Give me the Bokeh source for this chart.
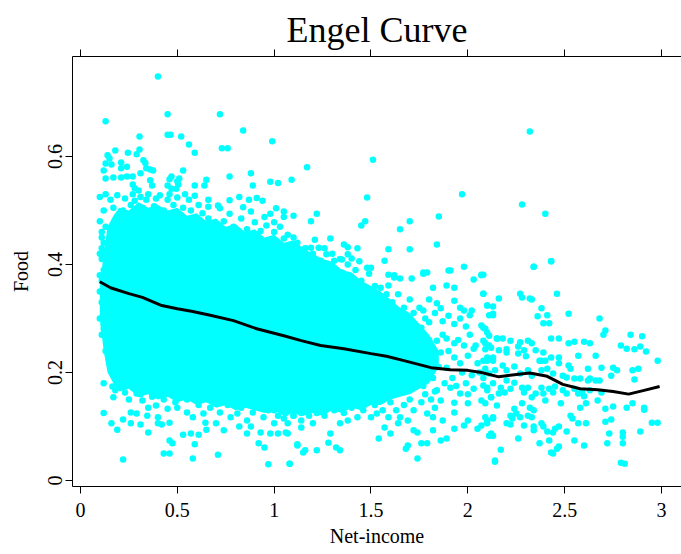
from bokeh.plotting import figure
from bokeh.models import Range1d, LinearAxis, FixedTicker
from bokeh.embed import file_html
from bokeh.resources import INLINE

# ---------------- data ----------------
x_ticks = [0, 0.5, 1, 1.5, 2, 2.5, 3]
x_tick_labels = ["0", "0.5", "1", "1.5", "2", "2.5", "3"]
y_ticks = [0, 0.2, 0.4, 0.6]
y_tick_labels = ["0", "0.2", "0.4", "0.6"]

# dense, saturated core of the cloud (lower / upper envelope per income)
core_x = [0.10, 0.12, 0.14, 0.17, 0.20, 0.25, 0.30, 0.35, 0.40, 0.45, 0.50, 0.55, 0.60,
          0.65, 0.70, 0.75, 0.80, 0.85, 0.90, 0.95, 1.00, 1.05, 1.10, 1.15, 1.20, 1.25,
          1.30, 1.35, 1.40, 1.45, 1.50, 1.55, 1.60, 1.65, 1.70, 1.75, 1.80, 1.85]
core_hi = [0.36, 0.42, 0.47, 0.49, 0.505, 0.50, 0.515, 0.505, 0.51, 0.50, 0.505, 0.49, 0.495,
           0.48, 0.485, 0.47, 0.475, 0.46, 0.465, 0.45, 0.455, 0.44, 0.445, 0.43, 0.42, 0.41,
           0.405, 0.39, 0.385, 0.37, 0.36, 0.35, 0.335, 0.32, 0.31, 0.29, 0.27, 0.24]
core_lo = [0.30, 0.24, 0.20, 0.18, 0.165, 0.17, 0.155, 0.16, 0.15, 0.155, 0.145, 0.15, 0.14,
           0.145, 0.135, 0.14, 0.13, 0.135, 0.13, 0.125, 0.13, 0.12, 0.125, 0.12, 0.125, 0.12,
           0.13, 0.125, 0.135, 0.13, 0.14, 0.14, 0.15, 0.155, 0.16, 0.17, 0.18, 0.21]

# individual households outside the solid core
upper_pts = [
    (0.40, 0.748), (0.13, 0.665), (0.45, 0.678), (0.72, 0.678), (0.84, 0.648), (0.45, 0.640),
    (0.465, 0.640), (0.305, 0.637), (0.52, 0.637), (0.99, 0.628), (0.56, 0.622), (0.59, 0.607),
    (0.73, 0.615), (0.76, 0.615), (0.18, 0.611), (0.14, 0.602), (0.15, 0.596), (0.245, 0.607),
    (0.305, 0.613), (0.29, 0.604), (0.325, 0.593), (0.335, 0.588), (0.21, 0.589), (0.13, 0.587),
    (0.16, 0.585), (0.12, 0.574), (0.21, 0.578), (0.24, 0.581), (0.34, 0.578), (0.36, 0.576),
    (0.375, 0.574), (0.53, 0.574), (0.47, 0.563), (0.46, 0.558), (0.51, 0.559), (0.50, 0.554),
    (0.13, 0.559), (0.17, 0.561), (0.21, 0.561), (0.24, 0.563), (0.27, 0.563), (0.31, 0.569),
    (0.36, 0.556), (0.65, 0.557), (0.77, 0.563), (0.88, 0.569), (0.98, 0.553), (1.02, 0.551),
    (1.09, 0.557), (0.89, 0.546), (0.64, 0.546), (0.59, 0.546), (0.27, 0.548), (0.28, 0.541),
    (0.45, 0.546), (0.47, 0.540), (0.505, 0.548), (0.495, 0.540), (0.37, 0.546), (0.30, 0.537),
    (1.51, 0.594), (1.17, 0.580), (1.97, 0.530), (2.32, 0.646), (2.28, 0.511), (2.40, 0.494),
    (1.48, 0.524), (1.85, 0.489), (1.70, 0.480), (1.47, 0.480), (1.45, 0.472), (1.65, 0.465),
    (1.84, 0.437), (1.05, 0.498), (1.10, 0.490), (1.22, 0.494), (1.19, 0.480),
]
mid_upper_pts = [
    (0.10, 0.525), (0.13, 0.53), (0.155, 0.52), (0.19, 0.528), (0.23, 0.522), (0.27, 0.53),
    (0.28, 0.518), (0.31, 0.525), (0.34, 0.52), (0.35, 0.53), (0.39, 0.522), (0.41, 0.528),
    (0.45, 0.52), (0.46, 0.53), (0.50, 0.524), (0.54, 0.53), (0.56, 0.52), (0.59, 0.527),
    (0.66, 0.52), (0.77, 0.519), (0.82, 0.525), (0.87, 0.52), (0.91, 0.523), (0.94, 0.518),
    (0.66, 0.507), (0.71, 0.509), (0.72, 0.504), (0.77, 0.494), (0.84, 0.506), (0.88, 0.498),
    (0.98, 0.494), (1.01, 0.504), (1.05, 0.488), (1.00, 0.478), (0.12, 0.50), (0.17, 0.505),
    (0.22, 0.50), (0.26, 0.51), (0.32, 0.505), (0.38, 0.508), (0.43, 0.50), (0.48, 0.51),
    (0.53, 0.505), (0.57, 0.50), (0.61, 0.51), (0.63, 0.495),
    (0.66, 0.485), (0.70, 0.475), (0.74, 0.48), (0.79, 0.47), (0.83, 0.485), (0.86, 0.465),
    (0.90, 0.478), (0.93, 0.462), (0.96, 0.472), (1.00, 0.46), (1.03, 0.47), (1.07, 0.455),
    (1.10, 0.45), (1.12, 0.44), (0.95, 0.488), (0.81, 0.455), (0.68, 0.462),
    (1.29, 0.448), (1.21, 0.446), (1.05, 0.448), (1.36, 0.437), (1.38, 0.432), (1.43, 0.43),
    (1.59, 0.428), (1.70, 0.428), (1.08, 0.431), (1.12, 0.428), (1.19, 0.431), (1.23, 0.431),
    (1.57, 0.407), (1.98, 0.396), (1.91, 0.389), (2.07, 0.381), (1.77, 0.385), (1.79, 0.385),
    (1.62, 0.38), (1.59, 0.381), (1.48, 0.394), (1.50, 0.394), (1.49, 0.383),
    (1.44, 0.406), (1.40, 0.411), (1.38, 0.419), (1.35, 0.409), (1.31, 0.407), (1.27, 0.419),
    (1.24, 0.407), (1.19, 0.402), (1.14, 0.404), (1.11, 0.394), (1.16, 0.389),
    (2.43, 0.406), (2.34, 0.396), (2.08, 0.381),
    (1.52, 0.36), (1.55, 0.34), (1.58, 0.345), (1.61, 0.33), (1.64, 0.345), (1.67, 0.32),
    (1.70, 0.335), (1.72, 0.31), (1.75, 0.32), (1.78, 0.30), (1.80, 0.335), (1.83, 0.31),
    (1.87, 0.295), (1.90, 0.305), (1.93, 0.29), (1.96, 0.30), (1.99, 0.285), (1.45, 0.37),
    (1.42, 0.39), (1.38, 0.40), (1.34, 0.41), (1.30, 0.42), (1.26, 0.43), (1.20, 0.42),
    (1.16, 0.43), (1.25, 0.40), (1.35, 0.385), (1.47, 0.35),
]
left_pts = [
    (0.11, 0.45), (0.12, 0.42), (0.11, 0.41), (0.12, 0.39), (0.11, 0.37), (0.10, 0.35),
    (0.12, 0.34), (0.11, 0.33), (0.12, 0.29), (0.11, 0.27), (0.13, 0.24), (0.12, 0.18),
    (0.12, 0.125), (0.10, 0.30), (0.10, 0.38), (0.13, 0.36), (0.13, 0.31),
    (0.10, 0.48), (0.11, 0.46), (0.12, 0.44), (0.10, 0.42), (0.13, 0.47), (0.11, 0.43),
]
lower_pts = [
    (0.22, 0.039), (0.43, 0.05), (0.46, 0.05), (0.58, 0.041), (0.71, 0.048), (0.97, 0.03),
    (1.08, 0.031), (0.92, 0.069), (0.95, 0.061), (1.12, 0.067),
    (0.16, 0.106), (0.19, 0.094), (0.22, 0.113), (0.26, 0.106), (0.31, 0.104), (0.35, 0.089),
    (0.40, 0.106), (0.42, 0.104), (0.46, 0.107), (0.46, 0.074), (0.475, 0.069), (0.53, 0.085),
    (0.57, 0.087), (0.59, 0.067), (0.61, 0.085), (0.65, 0.094), (0.74, 0.093), (0.70, 0.106),
    (0.645, 0.107), (0.82, 0.10), (0.88, 0.10), (0.86, 0.087), (0.93, 0.089), (0.98, 0.087),
    (1.02, 0.087), (1.06, 0.089), (1.07, 0.106), (1.00, 0.106),
    (0.17, 0.154), (0.165, 0.174), (0.18, 0.167), (0.12, 0.272), (0.12, 0.281), (0.13, 0.287),
    (0.155, 0.263), (0.18, 0.241), (0.19, 0.222), (0.21, 0.204), (0.23, 0.163), (0.27, 0.172),
    (0.29, 0.161), (0.32, 0.148), (0.35, 0.135), (0.39, 0.139), (0.26, 0.126), (0.29, 0.124),
    (0.345, 0.12), (0.40, 0.117), (0.45, 0.133), (0.50, 0.135), (0.55, 0.126), (0.58, 0.117),
    (0.635, 0.124), (0.67, 0.135), (0.72, 0.126), (0.775, 0.117), (0.81, 0.124), (0.86, 0.111),
    (0.89, 0.126), (0.945, 0.117), (1.00, 0.13), (1.05, 0.115), (1.10, 0.12), (1.14, 0.111),
    (0.25, 0.15), (0.31, 0.16), (0.37, 0.155), (0.43, 0.15), (0.49, 0.145), (0.55, 0.15),
    (0.61, 0.14), (0.66, 0.15), (0.76, 0.14), (0.83, 0.135), (0.92, 0.14), (0.97, 0.13),
    (0.40, 0.165), (0.52, 0.16), (0.70, 0.145),
    (1.52, 0.14), (1.56, 0.13), (1.60, 0.145), (1.63, 0.13), (1.67, 0.14), (1.70, 0.15),
    (1.72, 0.13), (1.76, 0.145), (1.78, 0.16), (1.81, 0.15), (1.83, 0.135), (1.46, 0.13),
    (1.40, 0.135), (1.36, 0.125), (1.31, 0.13), (1.26, 0.12), (1.22, 0.125), (1.18, 0.12),
    (1.14, 0.125), (1.10, 0.12), (1.06, 0.125), (1.02, 0.12),
    (1.43, 0.117), (1.38, 0.111), (1.34, 0.106), (1.29, 0.087), (1.28, 0.07), (1.34, 0.056),
    (1.32, 0.061), (1.22, 0.056), (1.16, 0.056), (1.15, 0.052), (1.12, 0.065), (1.08, 0.031),
    (1.20, 0.106), (1.14, 0.098), (1.07, 0.087),
    (1.72, 0.093), (1.74, 0.089), (1.64, 0.106), (1.65, 0.117), (1.69, 0.111), (1.60, 0.087),
    (1.57, 0.098), (1.54, 0.078), (1.50, 0.117), (1.53, 0.124), (1.59, 0.117),
    (1.68, 0.059), (1.69, 0.065), (1.76, 0.069), (1.79, 0.069), (1.74, 0.041),
]
right_pts = [
    (1.90, 0.389), (2.03, 0.372), (2.07, 0.38), (1.89, 0.361), (1.93, 0.357), (1.82, 0.357),
    (2.08, 0.346), (1.77, 0.383), (1.71, 0.374), (1.65, 0.374), (1.62, 0.376), (1.55, 0.357),
    (1.59, 0.361), (1.84, 0.328), (1.86, 0.319), (1.93, 0.333), (1.96, 0.32), (1.98, 0.315),
    (2.02, 0.315), (2.01, 0.306), (2.10, 0.324), (2.13, 0.306), (2.07, 0.287), (2.09, 0.281),
    (2.15, 0.263), (2.09, 0.254), (1.77, 0.315), (1.80, 0.293), (1.73, 0.287), (1.76, 0.283),
    (1.69, 0.30), (1.69, 0.293), (1.65, 0.306),
    (1.84, 0.259), (1.89, 0.263), (1.93, 0.254), (1.98, 0.25), (2.03, 0.244), (2.00, 0.231),
    (1.93, 0.228), (1.86, 0.237), (1.79, 0.235), (1.82, 0.222), (1.89, 0.209), (1.96, 0.217),
    (2.05, 0.217), (2.10, 0.228), (2.13, 0.222),
    (1.84, 0.167), (1.91, 0.172), (1.96, 0.161), (2.03, 0.17), (2.10, 0.172), (2.07, 0.148),
    (2.12, 0.154), (2.00, 0.143), (1.93, 0.144), (1.86, 0.148), (2.13, 0.117), (2.10, 0.111),
    (2.07, 0.102), (2.00, 0.111), (1.98, 0.102), (1.93, 0.126), (1.87, 0.111), (1.82, 0.117),
    (1.79, 0.124), (2.05, 0.096), (2.12, 0.087), (2.13, 0.083), (1.93, 0.096), (1.89, 0.078),
    (1.86, 0.074), (1.82, 0.093), (2.14, 0.037),
    (1.76, 0.25), (1.78, 0.20), (1.80, 0.26), (1.82, 0.19), (1.85, 0.21), (1.87, 0.27),
    (1.88, 0.18), (1.90, 0.24), (1.92, 0.19), (1.95, 0.26), (1.97, 0.20), (1.99, 0.18),
    (2.01, 0.27), (2.02, 0.195), (2.04, 0.25), (2.06, 0.20), (2.08, 0.19), (2.11, 0.25),
    (1.77, 0.175), (1.83, 0.165), (1.94, 0.175), (2.00, 0.16), (1.72, 0.24), (1.74, 0.20),
    (1.70, 0.22),
]
far_right_pts = [
    (2.08, 0.346), (2.16, 0.337), (2.27, 0.346), (2.28, 0.339), (2.32, 0.337), (2.33, 0.335),
    (2.46, 0.346), (2.10, 0.324), (2.13, 0.322), (2.13, 0.309), (2.11, 0.306), (2.38, 0.319),
    (2.36, 0.304), (2.41, 0.306), (2.39, 0.291), (2.42, 0.291), (2.52, 0.309), (2.68, 0.30),
    (2.71, 0.278), (2.70, 0.270), (2.84, 0.270), (2.90, 0.267), (2.08, 0.283), (2.10, 0.274),
    (2.11, 0.268), (2.15, 0.263), (2.18, 0.263), (2.22, 0.259), (2.27, 0.256), (2.31, 0.259),
    (2.33, 0.254), (2.43, 0.263), (2.47, 0.263), (2.52, 0.254), (2.55, 0.257), (2.60, 0.257),
    (2.63, 0.254), (2.79, 0.25), (2.82, 0.244), (2.86, 0.243), (2.92, 0.239), (2.89, 0.248),
    (2.98, 0.222), (2.08, 0.259), (2.09, 0.243), (2.12, 0.246), (2.08, 0.222), (2.10, 0.222),
    (2.13, 0.228), (2.16, 0.241), (2.20, 0.243), (2.20, 0.237), (2.26, 0.248), (2.29, 0.241),
    (2.26, 0.235), (2.30, 0.23), (2.35, 0.241), (2.39, 0.237), (2.37, 0.222), (2.38, 0.222),
    (2.40, 0.222), (2.43, 0.228), (2.47, 0.228), (2.47, 0.217), (2.52, 0.213), (2.53, 0.207),
    (2.57, 0.231), (2.62, 0.207), (2.66, 0.231), (2.69, 0.209), (2.75, 0.209), (2.77, 0.204),
    (2.74, 0.194), (2.85, 0.204), (2.88, 0.207), (2.86, 0.187), (2.66, 0.185), (2.63, 0.189),
    (2.82, 0.135), (2.85, 0.143), (2.91, 0.135), (2.91, 0.131), (2.95, 0.107), (2.98, 0.107),
    (2.89, 0.091), (2.80, 0.089), (2.80, 0.081), (2.80, 0.069), (2.79, 0.033), (2.81, 0.031),
    (2.75, 0.137), (2.73, 0.087), (2.72, 0.069), (2.71, 0.109), (2.74, 0.113), (2.61, 0.143),
    (2.61, 0.106), (2.60, 0.065), (2.58, 0.135), (2.57, 0.106), (2.55, 0.074), (2.53, 0.12),
    (2.54, 0.115), (2.51, 0.091), (2.48, 0.143), (2.47, 0.10), (2.47, 0.063), (2.46, 0.059),
    (2.43, 0.052), (2.44, 0.05), (2.42, 0.074), (2.41, 0.091), (2.39, 0.10), (2.38, 0.106),
    (2.44, 0.089), (2.45, 0.096), (2.37, 0.069), (2.34, 0.093), (2.34, 0.10), (2.32, 0.135),
    (2.34, 0.13), (2.31, 0.12), (2.33, 0.117), (2.28, 0.143), (2.27, 0.117), (2.26, 0.078),
    (2.29, 0.102), (2.24, 0.133), (2.22, 0.12), (2.25, 0.124), (2.20, 0.106), (2.22, 0.104),
    (2.23, 0.115), (2.17, 0.057), (2.14, 0.035), (2.12, 0.085), (2.11, 0.083), (2.13, 0.115),
    (2.10, 0.106), (2.09, 0.117), (2.09, 0.143), (2.12, 0.154), (2.15, 0.139), (2.17, 0.172),
    (2.19, 0.163), (2.16, 0.161), (2.20, 0.185), (2.24, 0.181), (2.22, 0.17), (2.28, 0.172),
    (2.29, 0.163), (2.31, 0.172), (2.33, 0.154), (2.35, 0.161), (2.38, 0.172), (2.39, 0.161),
    (2.40, 0.148), (2.42, 0.17), (2.44, 0.163), (2.45, 0.174), (2.49, 0.167), (2.51, 0.161),
    (2.55, 0.17), (2.57, 0.161), (2.59, 0.163), (2.60, 0.156), (2.63, 0.167), (2.67, 0.148),
    (2.69, 0.163), (2.71, 0.133), (2.08, 0.176), (2.10, 0.167), (2.13, 0.180), (2.11, 0.198),
    (2.14, 0.204), (2.09, 0.207), (2.18, 0.213), (2.20, 0.204), (2.24, 0.211), (2.27, 0.198),
    (2.31, 0.204), (2.33, 0.194), (2.38, 0.204), (2.41, 0.207), (2.44, 0.198), (2.49, 0.194),
    (2.51, 0.191), (2.55, 0.189), (2.58, 0.189), (2.62, 0.185), (2.68, 0.185),
    (2.43, 0.406), (2.34, 0.396),
]

# smoothed (nonparametric) Engel curve
curve_x = [0.10, 0.155, 0.25, 0.32, 0.42, 0.50, 0.58, 0.67, 0.79, 0.91, 1.05, 1.14, 1.24,
           1.36, 1.50, 1.58, 1.67, 1.81, 1.91, 2.00, 2.07, 2.16, 2.24, 2.32, 2.41, 2.49,
           2.58, 2.67, 2.75, 2.83, 2.91, 2.99]
curve_y = [0.368, 0.357, 0.346, 0.339, 0.324, 0.318, 0.313, 0.306, 0.296, 0.281, 0.268,
           0.259, 0.250, 0.244, 0.235, 0.230, 0.222, 0.209, 0.205, 0.204, 0.200, 0.192,
           0.196, 0.199, 0.193, 0.178, 0.170, 0.168, 0.165, 0.160, 0.167, 0.174]

# ---------------- figure ----------------
SERIF = "Liberation Serif"
CYAN = "#00FFFF"

p = figure(width=681, height=554, output_backend="svg", toolbar_location=None,
           x_range=Range1d(-0.041, 3.103), y_range=Range1d(-0.011, 0.785),
           min_border_left=72, min_border_right=0, min_border_top=56, min_border_bottom=68,
           x_axis_label="Net-income", y_axis_label="Food")
p.outline_line_color = None
p.xgrid.visible = False
p.ygrid.visible = False
p.background_fill_color = "white"
p.border_fill_color = "white"

p.title.text = "Engel Curve"
p.title.text_font = SERIF
p.title.text_font_size = "36px"
p.title.text_font_style = "normal"
p.title.text_color = "black"
p.title.align = "center"
p.title.standoff = 0

# dense core
p.varea(x=core_x, y1=core_lo, y2=core_hi, fill_color=CYAN)

all_pts = upper_pts + mid_upper_pts + left_pts + lower_pts + right_pts + far_right_pts
px = [a for a, b in all_pts]
py = [b for a, b in all_pts]
p.scatter(px, py, size=6.5, fill_color=CYAN, line_color=None, marker="circle")

p.line(curve_x, curve_y, line_color="black", line_width=3)

def style_axis(ax, ticks, labels):
    ax.ticker = FixedTicker(ticks=ticks)
    ax.major_label_overrides = {t: l for t, l in zip(ticks, labels)}
    ax.minor_tick_line_color = None
    ax.major_tick_in = 0
    ax.major_tick_out = 7
    ax.axis_line_color = "black"
    ax.major_tick_line_color = "black"
    ax.major_label_text_font = SERIF
    ax.major_label_text_font_size = "20px"
    ax.major_label_text_color = "black"
    ax.axis_label_text_font = SERIF
    ax.axis_label_text_font_size = "20px"
    ax.axis_label_text_font_style = "normal"
    ax.axis_label_text_color = "black"

style_axis(p.xaxis[0], x_ticks, x_tick_labels)
p.xaxis[0].major_label_standoff = 9
p.xaxis[0].axis_label_standoff = 5

style_axis(p.yaxis[0], y_ticks, y_tick_labels)
p.yaxis[0].major_label_orientation = "vertical"
p.yaxis[0].major_label_standoff = 3
p.yaxis[0].axis_label_standoff = 14

top = LinearAxis()
style_axis(top, x_ticks, ["" for _ in x_ticks])
top.major_label_text_font_size = "0px"
top.major_label_standoff = 0
p.add_layout(top, "above")

open("out.html", "w").write(file_html(p, INLINE))
